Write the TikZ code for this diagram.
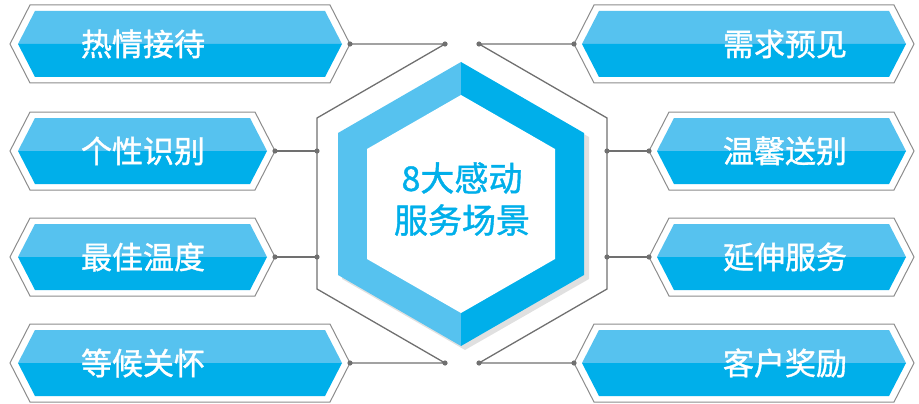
\documentclass[tikz,border=0pt]{standalone}
\usepackage{fontspec}
\setmainfont{Noto Sans CJK SC}
\newfontfamily\platefont[FakeBold=1.2]{Noto Sans CJK SC}
\definecolor{skylight}{RGB}{86,194,239}
\definecolor{skydark}{RGB}{0,175,234}
\definecolor{wiregray}{RGB}{112,112,112}
\definecolor{rimgray}{RGB}{140,140,140}

% one label plate: left tip x, right tip x, middle y
\newcommand{\sceneplate}[3]{%
  \draw[rimgray, line width=1pt, fill=white] (#1,#3) -- (#1+20,#3-39) -- (#2-20,#3-39) -- (#2,#3) -- (#2-20,#3+39) -- (#1+20,#3+39) -- cycle;
  \fill[skylight] (#1+8,#3) -- (#1+25,#3-33) -- (#2-25,#3-33) -- (#2-8,#3) -- cycle;
  \fill[skydark] (#1+8,#3) -- (#1+25,#3+33) -- (#2-25,#3+33) -- (#2-8,#3) -- cycle;
}

\begin{document}
\begin{tikzpicture}[x=1pt, y=-1pt,
    wire/.style={wiregray, line width=1.3pt},
    tagtext/.style={text=white, font=\platefont\fontsize{31}{36}\selectfont, inner sep=0pt},
    hubtext/.style={text=skydark, font=\platefont\fontsize{34}{42}\selectfont, align=center, inner sep=0pt}]
    \useasboundingbox (0,0) rectangle (919,404);

    % Define coordinates
    \coordinate (l1) at (350,44);
    \coordinate (l2) at (275,151);
    \coordinate (l3) at (275,257);
    \coordinate (l4) at (350,363);
    \coordinate (r1) at (574,44);
    \coordinate (r2) at (649,151);
    \coordinate (r3) at (649,257);
    \coordinate (r4) at (574,363);
    \coordinate (lj1) at (445,44);
    \coordinate (lk1) at (317,118);
    \coordinate (lj2) at (317,151);
    \coordinate (lj3) at (317,257);
    \coordinate (lk4) at (317,289);
    \coordinate (lj4) at (445,363);
    \coordinate (rj1) at (479,44);
    \coordinate (rk1) at (607,118);
    \coordinate (rj2) at (607,151);
    \coordinate (rj3) at (607,257);
    \coordinate (rk4) at (607,289);
    \coordinate (rj4) at (479,363);

    % Draw wires
    \draw[wire] (l1) -- (lj1) -- (lk1) -- (lk4) -- (lj4) -- (l4);
    \draw[wire] (l2) -- (lj2);
    \draw[wire] (l3) -- (lj3);
    \draw[wire] (r1) -- (rj1) -- (rk1) -- (rk4) -- (rj4) -- (r4);
    \draw[wire] (r2) -- (rj2);
    \draw[wire] (r3) -- (rj3);

    % Draw hexagon with soft shadow
    \fill[black, opacity=0.12] (465,66) -- (589,137) -- (589,279) -- (465,350) -- (342,279) -- (342,137) -- cycle;
    \fill[skylight] (461,62) -- (338,133) -- (338,275) -- (461,346) -- cycle;
    \fill[skydark] (461,62) -- (584,133) -- (584,275) -- (461,346) -- cycle;
    \fill[white] (461,95) -- (555,149) -- (555,259) -- (461,313) -- (367,259) -- (367,149) -- cycle;
    \node[hubtext] (hub) at (462,199) {8大感动\\服务场景};

    % Draw plates
    \sceneplate{10}{350}{44}
    \sceneplate{10}{275}{151}
    \sceneplate{10}{275}{257}
    \sceneplate{10}{350}{363}
    \sceneplate{574}{914}{44}
    \sceneplate{649}{914}{151}
    \sceneplate{649}{914}{257}
    \sceneplate{574}{914}{363}

    % Plate texts
    \node[tagtext] (t1) at (143,44) {热情接待};
    \node[tagtext] (t2) at (143,151) {个性识别};
    \node[tagtext] (t3) at (143,257) {最佳温度};
    \node[tagtext] (t4) at (143,363) {等候关怀};
    \node[tagtext] (t5) at (785,44) {需求预见};
    \node[tagtext] (t6) at (785,151) {温馨送别};
    \node[tagtext] (t7) at (785,257) {延伸服务};
    \node[tagtext] (t8) at (785,363) {客户奖励};

    % Draw dots on top
    \foreach \p in {l1,l2,l3,l4,r1,r2,r3,r4,lj1,lj2,lj3,lj4,rj1,rj2,rj3,rj4}
        \fill[wiregray] (\p) circle (2.6pt);

\end{tikzpicture}
\end{document}
